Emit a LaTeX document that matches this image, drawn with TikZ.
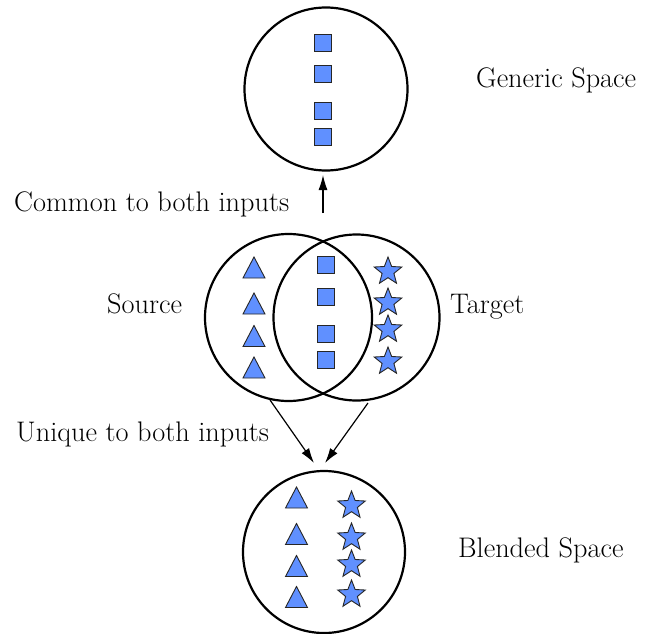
\documentclass[tikz,border=0pt]{standalone}
\usetikzlibrary{arrows.meta}
\definecolor{shpfill}{RGB}{96,144,255}
\tikzset{
  ring/.style={circle, draw=black, line width=2.2pt, inner sep=0pt},
  shp/.style={draw=black!85, fill=shpfill, line width=0.9pt, line join=miter},
  lbl/.style={anchor=base west, inner sep=0pt, font=\fontsize{28.3}{34}\selectfont},
  arr/.style={line width=1.2pt, -{Latex[length=15pt,width=9pt]}},
  sq/.pic={\draw[shp] (-8.5,-8.5) rectangle (8.5,8.5);},
  tri/.pic={\draw[shp] (-11,10.5) -- (11,10.5) -- (0,-10.5) -- cycle;},
  st/.pic={\draw[shp] (-90:14.5) -- (-54:6.2) -- (-18:14.5) -- (18:6.2) -- (54:14.5) -- (90:6.2) -- (126:14.5) -- (162:6.2) -- (198:14.5) -- (234:6.2) -- cycle;}
}
\begin{document}
\begin{tikzpicture}[x=1pt, y=-1pt]
\useasboundingbox (0,0) rectangle (648,634);
% circles
\node[ring, minimum size=163pt] (generic) at (326,89) {};
\node[ring, minimum size=167pt] (source) at (288.5,317.5) {};
\node[ring, minimum size=166pt] (target) at (356.5,317.5) {};
\node[ring, minimum size=162pt] (blended) at (324,552) {};
% labels
\node[lbl] (lgeneric) at (476,88) {Generic Space};
\node[lbl] (lcommon) at (14,211) {Common to both inputs};
\node[lbl] (lsource) at (107,313) {Source};
\node[lbl] (ltarget) at (450,313) {Target};
\node[lbl] (lunique) at (16,441) {Unique to both inputs};
\node[lbl] (lblended) at (458,557) {Blended Space};
% squares in generic space
\foreach \y in {43,74,111,137} \pic at (322.5,\y) {sq};
% squares in the overlap
\foreach \y in {265,296.5,333.5,360} \pic at (325.5,\y) {sq};
% triangles in source
\foreach \y in {267.5,303.5,336,367.5} \pic at (254,\y) {tri};
% stars in target
\foreach \y in {271.5,302.5,329.5,361.5} \pic at (388,\y) {st};
% blended space
\foreach \y in {497.5,534,566,597} \pic at (296.5,\y) {tri};
\foreach \y in {505.5,537.5,564.5,594.5} \pic at (351.5,\y) {st};
% arrows
\coordinate (upstart) at (323,213);
\coordinate (upend) at (323,175);
\coordinate (ls) at (270,400);
\coordinate (le) at (314,463);
\coordinate (rs) at (368,403);
\coordinate (re) at (325,463);
\draw[arr] (upstart) -- (upend);
\draw[arr] (ls) -- (le);
\draw[arr] (rs) -- (re);
\end{tikzpicture}
\end{document}
